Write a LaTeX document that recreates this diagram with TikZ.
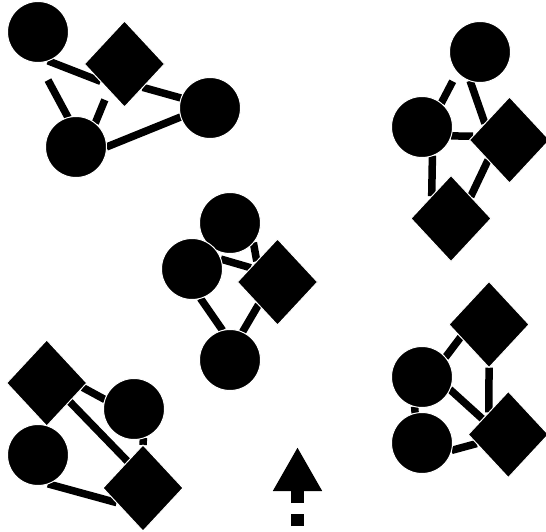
\documentclass[tikz,border=0pt]{standalone}
\usetikzlibrary{shapes.geometric,arrows.meta}
\pgfdeclarelayer{bg}
\pgfsetlayers{bg,main}
\begin{document}
\begin{tikzpicture}[x=1pt,y=-1pt,
  dot/.style={circle,fill=black,draw=white,line width=1pt,minimum size=61pt,inner sep=0pt,outer sep=0pt},
  dia/.style={diamond,fill=black,draw=white,line width=1pt,minimum width=80pt,minimum height=86pt,inner sep=0pt,outer sep=0pt},
  link/.style={line width=7.5pt},
  upflow/.style={line width=13pt,dash pattern=on 12pt off 11pt,dash phase=17pt,-{Triangle[length=44pt,width=46pt]}}]
\useasboundingbox (0,0) rectangle (546,532);
% group 1
\node[dot] (A) at (38,32) {};
\node[dia] (B) at (124.5,64) {};
\node[dot] (C) at (210,108) {};
\node[dot] (D) at (76,147) {};
% group 2
\node[dot] (E) at (480,52) {};
\node[dot] (F) at (422,127) {};
\node[dia] (G) at (509.5,140) {};
\node[dia] (H) at (451,218.5) {};
% group 3
\node[dot] (I) at (230,223) {};
\node[dot] (J) at (192,269) {};
\node[dia] (K) at (277.5,282) {};
\node[dot] (L) at (230,360) {};
% group 4
\node[dia] (P) at (46.7,383) {};
\node[dot] (Q) at (134,409) {};
\node[dot] (R) at (38,455) {};
\node[dia] (S) at (143,488) {};
% group 5
\node[dia] (T) at (489,324.5) {};
\node[dot] (M) at (422,377) {};
\node[dot] (N) at (422,443) {};
\node[dia] (U) at (508.3,434.5) {};
% arrow
\coordinate (arrowbase) at (297.5,532);
\coordinate (arrowtip) at (297.5,447);
\begin{pgfonlayer}{bg}
\draw[link] (A.-71.6) -- (B.216.3);
\draw[link] (B.-52.7) -- (C.161.6);
\draw[link,shorten >=20pt] (D.105) -- (A.-89);
\draw[link,shorten >=10.5pt] (D.51.6) -- (B.239.9);
\draw[link] (D.0.6) -- (C.197.7);
\draw[link,shorten >=10pt] (F.51.3) -- (E.222);
\draw[link] (E.251.4) -- (G.146.8);
\draw[link] (F.-17) -- (G.174.2);
\draw[link] (F.-70.5) -- (H.131.5);
\draw[link] (G.223.6) -- (H.48.5);
\draw[link] (J.19.2) -- (K.152.3);
\draw[link] (I.-40.4) -- (K.135.7);
\draw[link] (J.-74.6) -- (L.104);
\draw[link] (K.230.2) -- (L.66.8);
\draw[link] (P.-7.4) -- (Q.162.2);
\draw[link] (P.-39.2) -- (S.120);
\draw[link] (Q.-72.5) -- (S.90);
\draw[link] (R.-71.6) -- (S.209.2);
\draw[link] (P.south) -- (R.73);
\draw[link] (M.40.6) -- (T.204);
\draw[link] (T.south) -- (U.131.9);
\draw[link] (M.-24.9) -- (U.149.9);
\draw[link] (M.256.5) -- (N.103.5);
\draw[link] (N.-14.2) -- (U.196);
\end{pgfonlayer}
\draw[upflow] (arrowbase) -- (arrowtip);
\end{tikzpicture}
\end{document}
